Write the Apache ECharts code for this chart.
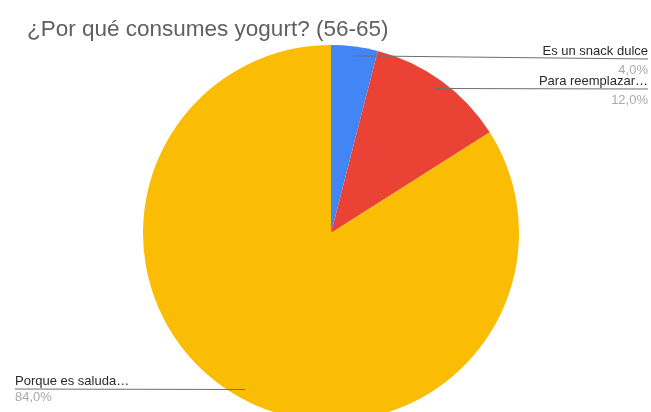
<!DOCTYPE html>
<html>
<head>
<meta charset="utf-8">
<script src="https://cdn.jsdelivr.net/npm/echarts@6/dist/echarts.min.js"></script>
<style>
  html, body { margin: 0; padding: 0; background: #fff; }
  #chart { width: 651px; height: 412px; }
</style>
</head>
<body>
<div id="chart"></div>
<script>
// Survey answers for the 56-65 age group
const categories = ['Es un snack dulce', 'Para reemplazar…', 'Porque es saluda…'];
const shares = [4.0, 12.0, 84.0];
const sliceColors = ['#4285F4', '#EA4335', '#FBBC04'];

// Where each label block sits: anchor x, top y, side, gap below the leader
const labelSpots = [
  { x: 648, y: 43, align: 'right', pctLine: 22 },
  { x: 648, y: 73, align: 'right', pctLine: 22 },
  { x: 15, y: 373, align: 'left', pctLine: 17 }
];

const center = [331, 233];
const radius = 188;
const FONT = '"Liberation Sans", Arial, sans-serif';

const fmtPct = v => v.toFixed(1).replace('.', ',') + '%';

const chart = echarts.init(document.getElementById('chart'), null, { renderer: 'canvas' });

const pieBase = {
  type: 'pie',
  center: center,
  radius: radius,
  startAngle: 90,
  clockwise: true,
  animation: false
};

chart.setOption({
  animation: false,
  title: {
    text: '¿Por qué consumes yogurt? (56-65)',
    left: 22,
    top: 13,
    textStyle: {
      fontFamily: FONT,
      fontSize: 22.5,
      fontWeight: 'normal',
      color: '#606060'
    }
  },
  series: [
    // coloured slices
    Object.assign({}, pieBase, {
      z: 2,
      data: categories.map((name, i) => ({
        name: name,
        value: shares[i],
        itemStyle: { color: sliceColors[i] }
      })),
      label: { show: false },
      labelLine: { show: false }
    }),
    // labels and leader lines, stacked above the slices
    Object.assign({}, pieBase, {
      z: 3,
      silent: true,
      itemStyle: { color: 'rgba(0,0,0,0)' },
      data: categories.map((name, i) => ({
        name: name,
        value: shares[i],
        label: {
          rich: {
            p: { fontFamily: FONT, fontSize: 13, color: '#aaaaaa', lineHeight: labelSpots[i].pctLine }
          }
        }
      })),
      label: {
        show: true,
        position: 'outside',
        formatter: p => '{n|' + p.name + '}\n{p|' + fmtPct(p.value) + '}',
        rich: {
          n: { fontFamily: FONT, fontSize: 13, color: '#2a2a2a', lineHeight: 16 },
          p: { fontFamily: FONT, fontSize: 13, color: '#aaaaaa', lineHeight: 22 }
        }
      },
      labelLine: {
        show: true,
        lineStyle: { color: '#6f6f6f', width: 1 }
      },
      labelLayout: function (params) {
        const spot = labelSpots[params.dataIndex];
        const edge = params.labelLinePoints[0];
        // start the leader just inside the slice, along its middle angle
        const ang = Math.atan2(edge[1] - center[1], edge[0] - center[0]);
        const r = radius * 0.95;
        const start = [center[0] + Math.cos(ang) * r, center[1] + Math.sin(ang) * r];
        const lineY = spot.y + 16;
        return {
          x: spot.x,
          y: spot.y,
          align: spot.align,
          verticalAlign: 'top',
          hideOverlap: false,
          moveOverlap: false,
          labelLinePoints: [start, [spot.x, lineY], [spot.x, lineY]]
        };
      }
    })
  ]
});
</script>
</body>
</html>
